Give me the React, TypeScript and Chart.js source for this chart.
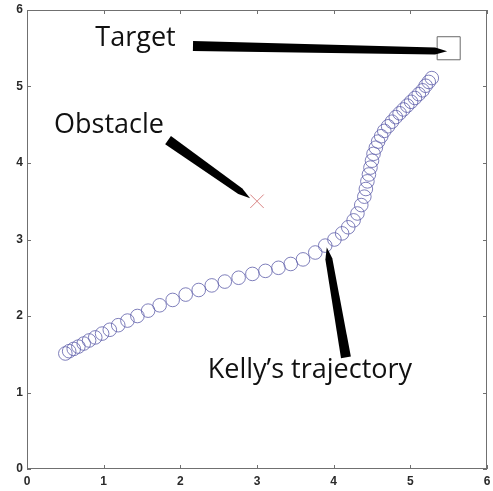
import React, { useEffect, useRef } from "react";
import { Chart, registerables } from "chart.js";

Chart.register(...registerables);

// Kelly's trajectory (data units)
const trajX = [
  0.5, 0.55, 0.61, 0.67, 0.74, 0.81, 0.89, 0.98, 1.08, 1.19, 1.31, 1.44, 1.58, 1.73, 1.9, 2.07,
  2.24, 2.41, 2.58, 2.76, 2.94, 3.11, 3.28, 3.44, 3.6, 3.76, 3.89, 4.01, 4.11, 4.19, 4.26, 4.31,
  4.36, 4.4, 4.42, 4.44, 4.46, 4.48, 4.5, 4.52, 4.55, 4.58, 4.62, 4.66, 4.71, 4.76, 4.81, 4.86,
  4.91, 4.96, 5.01, 5.06, 5.11, 5.16, 5.2, 5.24, 5.28,
];
const trajY = [
  1.51, 1.54, 1.57, 1.6, 1.64, 1.68, 1.72, 1.77, 1.82, 1.88, 1.94, 2.0, 2.07, 2.14, 2.21, 2.28,
  2.34, 2.4, 2.45, 2.5, 2.55, 2.59, 2.63, 2.68, 2.74, 2.83, 2.92, 3.0, 3.08, 3.16, 3.25, 3.34,
  3.45, 3.56, 3.66, 3.76, 3.85, 3.94, 4.03, 4.12, 4.2, 4.28, 4.35, 4.42, 4.48, 4.54, 4.6, 4.65,
  4.7, 4.75, 4.8, 4.85, 4.9, 4.95, 5.01, 5.06, 5.11,
];

const targetX = [5.5];
const targetY = [5.5];
const obstacleX = [3];
const obstacleY = [3.5];

const axisTicks = [0, 1, 2, 3, 4, 5, 6];

// Annotation texts (baseline positions) and arrows (data units)
const labelTexts = ["Target", "Obstacle", "Kelly\u2019s trajectory"];
const labelX = [1.415, 1.07, 3.69];
const labelY = [5.53, 4.39, 1.19];
const arrowTailX = [2.165, 1.84, 4.16];
const arrowTailY = [5.53, 4.3, 1.46];
const arrowTipX = [5.48, 2.91, 3.91];
const arrowTipY = [5.46, 3.54, 2.9];

const framePlugin = {
  id: "frameTicks",
  afterDraw(chart: any) {
    const { ctx, chartArea: a, scales } = chart;
    const xs = scales.x;
    const ys = scales.y;
    ctx.save();
    ctx.strokeStyle = "#707070";
    ctx.lineWidth = 1;
    ctx.strokeRect(a.left + 0.5, a.top + 0.5, a.right - a.left - 1, a.bottom - a.top - 1);
    ctx.beginPath();
    const tl = 4;
    axisTicks.forEach((v) => {
      const px = Math.round(xs.getPixelForValue(v)) + 0.5;
      ctx.moveTo(px, a.bottom);
      ctx.lineTo(px, a.bottom - tl);
      ctx.moveTo(px, a.top);
      ctx.lineTo(px, a.top + tl);
      const py = Math.round(ys.getPixelForValue(v)) + 0.5;
      ctx.moveTo(a.left, py);
      ctx.lineTo(a.left + tl, py);
      ctx.moveTo(a.right, py);
      ctx.lineTo(a.right - tl, py);
    });
    ctx.stroke();
    ctx.restore();
  },
};

const annotationPlugin = {
  id: "annotations",
  afterDatasetsDraw(chart: any) {
    const { ctx, scales } = chart;
    const xs = scales.x;
    const ys = scales.y;
    ctx.save();
    ctx.fillStyle = "#111";
    ctx.font = "27px 'Open Sans', Lato, sans-serif";
    ctx.textAlign = "center";
    ctx.textBaseline = "alphabetic";
    labelTexts.forEach((t, i) => {
      ctx.fillText(t, xs.getPixelForValue(labelX[i]), ys.getPixelForValue(labelY[i]));
    });
    ctx.fillStyle = "#000";
    for (let i = 0; i < arrowTailX.length; i++) {
      const tx = xs.getPixelForValue(arrowTailX[i]);
      const ty = ys.getPixelForValue(arrowTailY[i]);
      const px = xs.getPixelForValue(arrowTipX[i]);
      const py = ys.getPixelForValue(arrowTipY[i]);
      const dx = px - tx;
      const dy = py - ty;
      const len = Math.hypot(dx, dy);
      const ux = dx / len;
      const uy = dy / len;
      const nx = -uy;
      const ny = ux;
      const w1 = 5;
      const w2 = 3.5;
      const head = 12;
      const sx = px - ux * head;
      const sy = py - uy * head;
      ctx.beginPath();
      ctx.moveTo(tx + nx * w1, ty + ny * w1);
      ctx.lineTo(sx + nx * w2, sy + ny * w2);
      ctx.lineTo(px, py);
      ctx.lineTo(sx - nx * w2, sy - ny * w2);
      ctx.lineTo(tx - nx * w1, ty - ny * w1);
      ctx.closePath();
      ctx.fill();
    }
    ctx.restore();
  },
};

export default function App() {
  const ref = useRef<HTMLCanvasElement | null>(null);
  useEffect(() => {
    if (!ref.current) return;
    const chart = new Chart(ref.current, {
      type: "scatter",
      data: {
        datasets: [
          {
            label: "trajectory",
            data: trajX.map((x, i) => ({ x, y: trajY[i] })),
            pointStyle: "circle",
            pointRadius: 6.8,
            pointBorderWidth: 1,
            pointBorderColor: "rgba(95,95,170,0.8)",
            pointBackgroundColor: "rgba(0,0,0,0)",
            showLine: false,
          },
          {
            label: "obstacle",
            data: obstacleX.map((x, i) => ({ x, y: obstacleY[i] })),
            pointStyle: "crossRot",
            pointRadius: 9.5,
            pointBorderWidth: 1,
            pointBorderColor: "#d98484",
          },
          {
            label: "target",
            data: targetX.map((x, i) => ({ x, y: targetY[i] })),
            pointStyle: "rect",
            pointRadius: 16.3,
            pointBorderWidth: 1,
            pointBorderColor: "#6a6a6a",
            pointBackgroundColor: "rgba(0,0,0,0)",
          },
        ],
      },
      options: {
        responsive: false,
        animation: false,
        layout: { autoPadding: false, padding: { top: 10, right: 6, left: 0, bottom: 0 } },
        plugins: { legend: { display: false }, tooltip: { enabled: false } },
        scales: {
          x: {
            type: "linear",
            min: 0,
            max: 6,
            afterFit: (s: any) => {
              s.height = 22;
              s.paddingLeft = 0;
              s.paddingRight = 0;
            },
            afterBuildTicks: (s: any) => {
              s.ticks = axisTicks.map((v) => ({ value: v }));
            },
            ticks: { color: "#2a2a2a", font: { family: "Arial, 'Liberation Sans'", size: 12, weight: "bold" }, padding: 5, maxRotation: 0 },
            grid: { display: false, drawTicks: false },
            border: { display: false },
          },
          y: {
            type: "linear",
            min: 0,
            max: 6,
            afterFit: (s: any) => {
              s.width = 27;
              s.paddingTop = 0;
              s.paddingBottom = 0;
            },
            afterBuildTicks: (s: any) => {
              s.ticks = axisTicks.map((v) => ({ value: v }));
            },
            ticks: { color: "#2a2a2a", font: { family: "Arial, 'Liberation Sans'", size: 12, weight: "bold" }, padding: 4 },
            grid: { display: false, drawTicks: false },
            border: { display: false },
          },
        },
      },
      plugins: [framePlugin, annotationPlugin],
    } as any);
    return () => chart.destroy();
  }, []);
  return (
    <div style={{ position: "fixed", left: 0, top: 0, width: 493, height: 491, background: "#fff" }}>
      <canvas ref={ref} width={493} height={491} style={{ width: 493, height: 491, display: "block" }} />
    </div>
  );
}
